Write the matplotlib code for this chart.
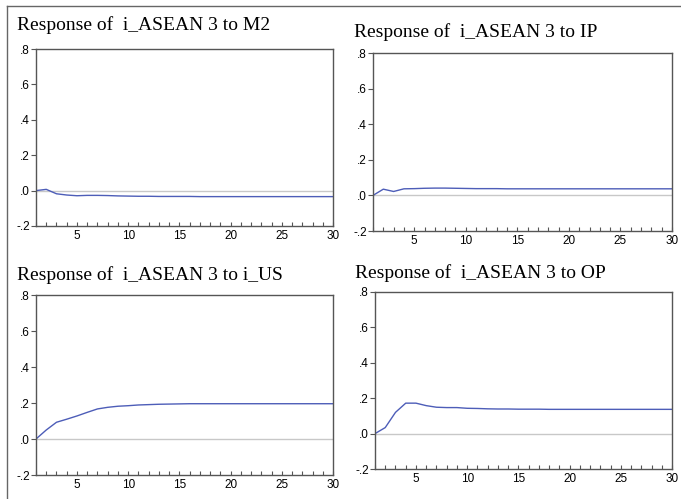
import matplotlib
matplotlib.use('Agg')
import matplotlib.pyplot as plt
from matplotlib.ticker import FixedLocator, MultipleLocator, FuncFormatter
from matplotlib.lines import Line2D

plt.rcParams['font.family'] = ['Liberation Sans', 'DejaVu Sans']

periods = list(range(1, 31))

resp_m2 = [0.000, 0.007, -0.018, -0.025, -0.029, -0.027, -0.027, -0.028, -0.030, -0.031,
           -0.032, -0.032, -0.033, -0.033, -0.033, -0.033, -0.034, -0.034, -0.034, -0.034,
           -0.034, -0.034, -0.034, -0.034, -0.034, -0.034, -0.034, -0.034, -0.034, -0.034]
resp_ip = [0.000, 0.035, 0.022, 0.037, 0.038, 0.040, 0.041, 0.041, 0.040, 0.039,
           0.038, 0.038, 0.038, 0.037, 0.037, 0.037, 0.037, 0.037, 0.037, 0.037,
           0.037, 0.037, 0.037, 0.037, 0.037, 0.037, 0.037, 0.037, 0.037, 0.037]
resp_us = [0.000, 0.050, 0.093, 0.110, 0.128, 0.148, 0.167, 0.176, 0.182, 0.185,
           0.189, 0.191, 0.193, 0.194, 0.195, 0.196, 0.196, 0.196, 0.196, 0.196,
           0.196, 0.196, 0.196, 0.196, 0.196, 0.196, 0.196, 0.196, 0.196, 0.196]
resp_op = [0.000, 0.034, 0.120, 0.172, 0.172, 0.158, 0.149, 0.147, 0.147, 0.143,
           0.142, 0.140, 0.139, 0.139, 0.138, 0.138, 0.138, 0.137, 0.137, 0.137,
           0.137, 0.137, 0.137, 0.137, 0.137, 0.137, 0.137, 0.137, 0.137, 0.137]

titles = ['Response of  i_ASEAN 3 to M2', 'Response of  i_ASEAN 3 to IP',
          'Response of  i_ASEAN 3 to i_US', 'Response of  i_ASEAN 3 to OP']
series = [resp_m2, resp_ip, resp_us, resp_op]

W, H = 681, 499
# axes boxes in pixels: left, top, right, bottom
boxes = [(36, 49, 333, 226), (373, 53, 672, 231), (36, 295, 333, 475), (375, 292, 672, 469)]
# title positions in pixels: x, baseline
title_pos = [(17, 30), (354, 37), (17, 280), (355, 278)]

fig = plt.figure(figsize=(W / 100, H / 100), dpi=100)

def yfmt(v, pos):
    s = '%.1f' % v
    return s.replace('0.', '.')

for box, tp, title, vals in zip(boxes, title_pos, titles, series):
    l, t, r, b = box
    ax = fig.add_axes([l / W, 1 - b / H, (r - l) / W, (b - t) / H])
    ax.axhline(0, color='#c8c8c8', lw=1, zorder=1)
    ax.plot(periods, vals, color='#4d5db8', lw=1, zorder=2)
    ax.set_xlim(1, 30)
    ax.set_ylim(-0.2, 0.8)
    ax.xaxis.set_major_locator(FixedLocator([5, 10, 15, 20, 25, 30]))
    ax.xaxis.set_minor_locator(MultipleLocator(1))
    ax.yaxis.set_major_locator(FixedLocator([-0.2, 0.0, 0.2, 0.4, 0.6, 0.8]))
    ax.yaxis.set_major_formatter(FuncFormatter(yfmt))
    ax.tick_params(axis='x', which='both', direction='in', length=3, width=0.8,
                   color='#555555', labelsize=8.5, pad=3)
    ax.tick_params(axis='y', direction='out', length=3.5, width=0.8,
                   color='#555555', labelsize=8.5, pad=1)
    for sp in ax.spines.values():
        sp.set_color('#555555')
        sp.set_linewidth(1)
    fig.text(tp[0] / W, 1 - tp[1] / H, title, family='Liberation Serif',
             fontsize=14, va='baseline', ha='left')

# outer frame
fig.add_artist(Line2D([7 / W, 7 / W], [0, 1 - 6 / H], color='#666666', lw=1))
fig.add_artist(Line2D([7 / W, 1], [1 - 6 / H, 1 - 6 / H], color='#666666', lw=1))

fig.savefig('out.png', dpi=100)
